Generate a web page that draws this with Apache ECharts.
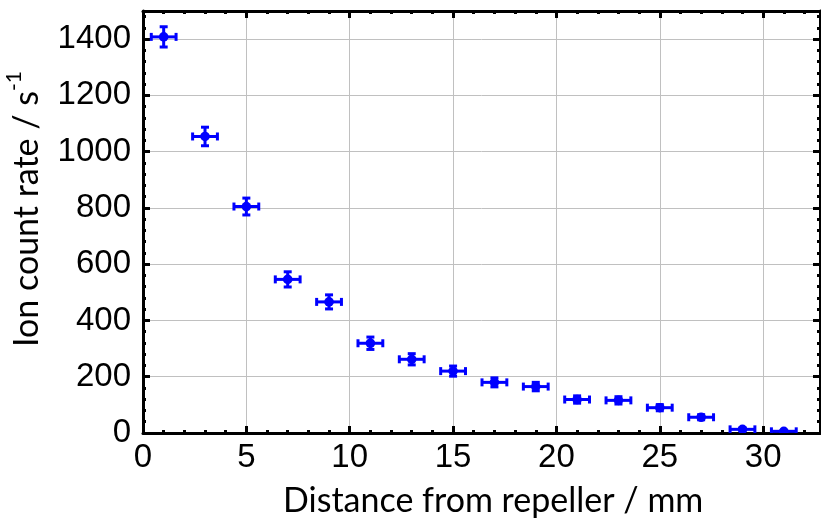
<!DOCTYPE html>
<html>
<head>
<meta charset="utf-8">
<script src="https://cdn.jsdelivr.net/npm/echarts@6/dist/echarts.min.js"></script>
<style>html,body{margin:0;padding:0;background:#fff}#c{width:821px;height:522px}</style>
</head>
<body>
<div id="c"></div>
<script>
// Data
var distance = [1, 3, 5, 7, 9, 11, 13, 15, 17, 19, 21, 23, 25, 27, 29, 31];
var rate     = [1408, 1054, 805, 546, 466, 319, 262, 220, 180, 165, 119, 116, 90, 56, 13, 6];
var rateErr  = [36, 33, 30, 27, 25, 22, 20, 18, 16, 15, 13, 13, 11, 9, 5, 3];
var distErr  = [0.6, 0.6, 0.6, 0.6, 0.6, 0.6, 0.6, 0.6, 0.6, 0.6, 0.6, 0.6, 0.6, 0.6, 0.6, 0.6];
var xTicks = [0, 5, 10, 15, 20, 25, 30];
var yTicks = [0, 200, 400, 600, 800, 1000, 1200, 1400];

var points = distance.map(function (d, i) { return [d, rate[i], distErr[i], rateErr[i]]; });

var chart = echarts.init(document.getElementById('c'), null, {renderer: 'canvas'});
var blue = '#0000ff';
var labelFont = {fontFamily: '"Liberation Sans", Arial, sans-serif', fontSize: 33, color: '#000'};
var tickStyle = {color: '#000', width: 3};

function renderItem(params, api) {
  var x = api.value(0), y = api.value(1), ex = api.value(2), ey = api.value(3);
  var p = api.coord([x, y]);
  var pl = api.coord([x - ex, y]), pr = api.coord([x + ex, y]);
  var pt = api.coord([x, y + ey]), pb = api.coord([x, y - ey]);
  var cap = 4;
  var st = {stroke: blue, lineWidth: 3, fill: null};
  return {
    type: 'group',
    children: [
      {type: 'line', shape: {x1: pl[0], y1: p[1], x2: pr[0], y2: p[1]}, style: st},
      {type: 'line', shape: {x1: pl[0], y1: p[1] - cap, x2: pl[0], y2: p[1] + cap}, style: st},
      {type: 'line', shape: {x1: pr[0], y1: p[1] - cap, x2: pr[0], y2: p[1] + cap}, style: st},
      {type: 'line', shape: {x1: p[0], y1: pt[1], x2: p[0], y2: pb[1]}, style: st},
      {type: 'line', shape: {x1: p[0] - cap, y1: pt[1], x2: p[0] + cap, y2: pt[1]}, style: st},
      {type: 'line', shape: {x1: p[0] - cap, y1: pb[1], x2: p[0] + cap, y2: pb[1]}, style: st},
      {type: 'circle', shape: {cx: p[0], cy: p[1], r: 4.8}, style: {fill: blue}}
    ]
  };
}

function hideNonTick(list) {
  return function (v) { return list.indexOf(v) >= 0 ? String(v) : ''; };
}

var option = {
  animation: false,
  backgroundColor: '#fff',
  grid: {left: 143, top: 11, right: 1, bottom: 89, containLabel: false},
  xAxis: [{
    type: 'value', min: 0, max: 32.75, interval: 5, position: 'bottom',
    axisLine: {show: true, onZero: false, lineStyle: {color: '#000', width: 3}},
    axisTick: {show: true, inside: true, length: 7, lineStyle: tickStyle},
    minorTick: {show: true, splitNumber: 5, length: 3, lineStyle: tickStyle},
    axisLabel: Object.assign({margin: 8, showMaxLabel: false, formatter: hideNonTick(xTicks)}, labelFont),
    splitLine: {show: true, lineStyle: {color: '#c0c0c0', width: 1}}
  }, {
    type: 'value', min: 0, max: 32.75, interval: 5, position: 'top',
    axisLine: {show: true, onZero: false, lineStyle: {color: '#000', width: 3}},
    axisTick: {show: true, inside: true, length: 7, lineStyle: tickStyle},
    minorTick: {show: true, splitNumber: 5, length: 3, lineStyle: tickStyle},
    axisLabel: {show: false}, splitLine: {show: false}
  }],
  yAxis: [{
    type: 'value', min: 0, max: 1500, interval: 200, position: 'left',
    axisLine: {show: true, onZero: false, lineStyle: {color: '#000', width: 3}},
    axisTick: {show: true, inside: true, length: 7, lineStyle: tickStyle},
    minorTick: {show: true, splitNumber: 5, length: 3, lineStyle: tickStyle},
    axisLabel: Object.assign({margin: 12, showMaxLabel: false, formatter: hideNonTick(yTicks)}, labelFont),
    splitLine: {show: true, lineStyle: {color: '#c0c0c0', width: 1}}
  }, {
    type: 'value', min: 0, max: 1500, interval: 200, position: 'right',
    axisLine: {show: true, onZero: false, lineStyle: {color: '#000', width: 3}},
    axisTick: {show: true, inside: true, length: 7, lineStyle: tickStyle},
    minorTick: {show: true, splitNumber: 5, length: 3, lineStyle: tickStyle},
    axisLabel: {show: false}, splitLine: {show: false}
  }],
  graphic: [{
    type: 'text', left: 283, top: 484,
    style: {text: 'Distance from repeller / mm', font: '34px Lato, "Open Sans", sans-serif', fill: '#000'}
  }, {
    type: 'text', x: 4, y: 347, rotation: Math.PI / 2,
    style: {
      text: '{a|Ion count rate / s}{b|-1}',
      rich: {
        a: {fontFamily: 'Lato, "Open Sans", sans-serif', fontSize: 34, fill: '#000', color: '#000', verticalAlign: 'bottom', lineHeight: 40},
        b: {fontFamily: 'Lato, "Open Sans", sans-serif', fontSize: 21, fill: '#000', color: '#000', verticalAlign: 'top', lineHeight: 40, padding: [0, 0, 14, 0]}
      }
    }
  }],
  series: [{
    type: 'custom', xAxisIndex: 0, yAxisIndex: 0,
    renderItem: renderItem, clip: true,
    data: points, z: 1
  }]
};
chart.setOption(option);
</script>
</body>
</html>
